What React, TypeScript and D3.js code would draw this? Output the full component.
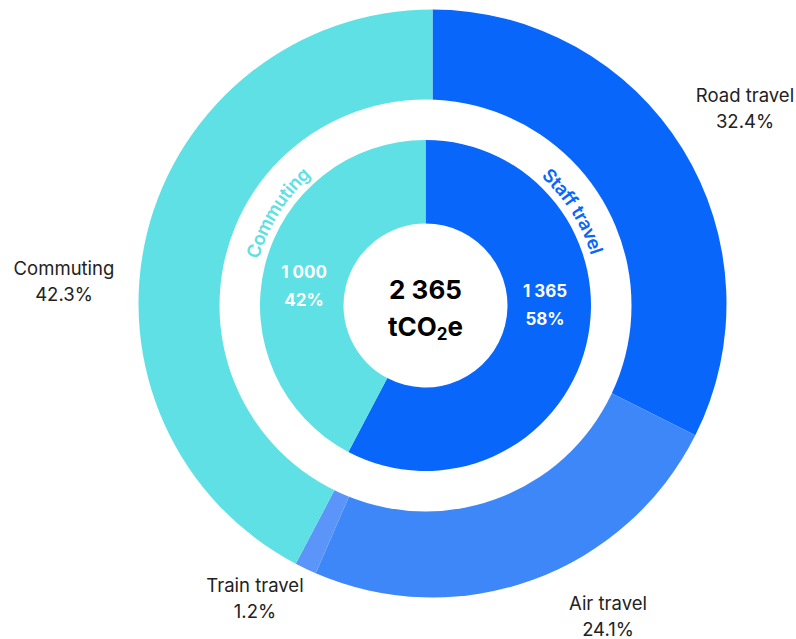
import React from "react";
import * as d3 from "d3";

const outerCategories = ["Road travel", "Air travel", "Train travel", "Commuting"];
const outerValues = [32.4, 24.1, 1.2, 42.3];
const outerPctLabels = ["32.4%", "24.1%", "1.2%", "42.3%"];

const innerCategories = ["Staff travel", "Commuting"];
const innerValues = [1365, 1000];
const innerValueLabels = ["1 365", "1 000"];
const innerPctLabels = ["58%", "42%"];

const totalLabel = "2 365";

const outerColors = ["#0866FB", "#3D87F9", "#5B95F9", "#5EE0E4"];
const innerColors = ["#0866FB", "#5EE0E4"];

// layout
const W = 796;
const H = 639;
const outerCenter: [number, number] = [432.5, 303.5];
const innerCenter: [number, number] = [425.5, 305.5];
const R_OUT = 294;
const R_GAP = 206;
const R_INNER = 165.5;
const R_HOLE = 82;
const outerLabelPos: [number, number][] = [
  [745, 102],
  [608, 610],
  [255, 592],
  [64, 275],
];
const innerLabelPos: [number, number][] = [
  [545, 297],
  [304, 278],
];
const curvedAngles = [57.5, -58];
const FONT = "Inter, 'Open Sans', sans-serif";

export default function App() {
  const pie = d3
    .pie<number>()
    .sort(null)
    .value((d) => d)
    .startAngle(0)
    .endAngle(2 * Math.PI);

  const outerArcs = pie(outerValues);
  const innerArcs = pie(innerValues);

  const outerArc = d3.arc<d3.PieArcDatum<number>>().innerRadius(0).outerRadius(R_OUT);
  const innerArc = d3
    .arc<d3.PieArcDatum<number>>()
    .innerRadius(R_HOLE)
    .outerRadius(R_INNER);

  const textR = 180;
  const curvePath = (centerDeg: number) => {
    const span = 45;
    const a0 = ((centerDeg - span) * Math.PI) / 180;
    const a1 = ((centerDeg + span) * Math.PI) / 180;
    const p = d3.path();
    p.arc(0, 0, textR, a0 - Math.PI / 2, a1 - Math.PI / 2, false);
    return p.toString();
  };

  return (
    <svg
      width={W}
      height={H}
      style={{ position: "absolute", left: 0, top: 0, background: "#fff" }}
      fontFamily={FONT}
    >
      <rect width={W} height={H} fill="#fff" />
      <g transform={`translate(${outerCenter[0]},${outerCenter[1]})`}>
        {outerArcs.map((a, i) => (
          <path key={outerCategories[i]} d={outerArc(a) || ""} fill={outerColors[i]} />
        ))}
      </g>
      <g transform={`translate(${innerCenter[0]},${innerCenter[1]})`}>
        <circle r={R_GAP} fill="#fff" />
        {innerArcs.map((a, i) => (
          <path key={innerCategories[i]} d={innerArc(a) || ""} fill={innerColors[i]} />
        ))}
        <defs>
          {innerCategories.map((c, i) => (
            <path key={c} id={`curve-${i}`} d={curvePath(curvedAngles[i])} fill="none" />
          ))}
        </defs>
        {innerCategories.map((c, i) => (
          <text
            key={c}
            fill={innerColors[i]}
            fontSize={18.5}
            fontWeight={600}
            dominantBaseline="central"
          >
            <textPath href={`#curve-${i}`} startOffset="50%" textAnchor="middle">
              {c}
            </textPath>
          </text>
        ))}
      </g>
      {innerCategories.map((c, i) => (
        <g key={c} fill="#fff" fontWeight={700} fontSize={17} textAnchor="middle">
          <text x={innerLabelPos[i][0]} y={innerLabelPos[i][1]}>
            {innerValueLabels[i]}
          </text>
          <text x={innerLabelPos[i][0]} y={innerLabelPos[i][1] + 28}>
            {innerPctLabels[i]}
          </text>
        </g>
      ))}
      <g textAnchor="middle" fill="#000" fontWeight={700} fontSize={26}>
        <text x={innerCenter[0]} y={299}>
          {totalLabel}
        </text>
        <text x={innerCenter[0]} y={336}>
          tCO
          <tspan fontSize={17} dy={4}>
            2
          </tspan>
          <tspan dy={-4}>e</tspan>
        </text>
      </g>
      {outerCategories.map((c, i) => (
        <g key={c} textAnchor="middle" fill="#222" fontSize={18.5}>
          <text x={outerLabelPos[i][0]} y={outerLabelPos[i][1]}>
            {c}
          </text>
          <text x={outerLabelPos[i][0]} y={outerLabelPos[i][1] + 26}>
            {outerPctLabels[i]}
          </text>
        </g>
      ))}
    </svg>
  );
}
